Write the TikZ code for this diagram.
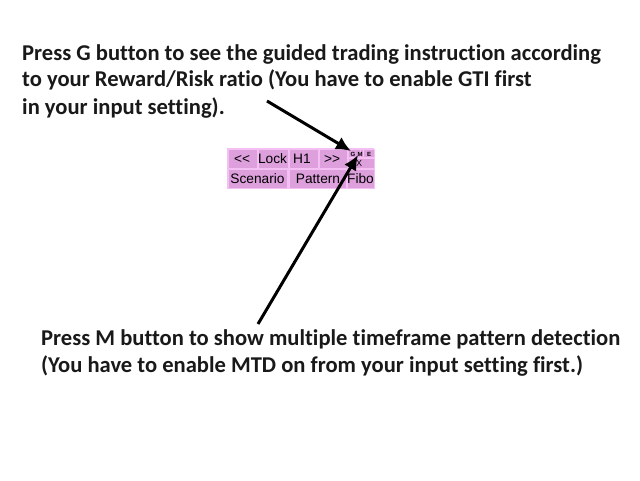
\documentclass[tikz,border=0pt]{standalone}
\usepackage{fontspec}
\setmainfont[Ligatures=NoCommon]{Carlito}
\newfontfamily\btnfont{Liberation Sans}
\usetikzlibrary{arrows.meta}
\definecolor{btn}{HTML}{DDA0DD}
\definecolor{btnlight}{HTML}{F4C0F4}
\tikzset{
  note/.style={anchor=base west,inner sep=0pt,font=\fontsize{22.58}{22.58}\selectfont\bfseries,text=black!90},
  btnbox/.style={fill=btn,draw=btnlight,line width=1pt},
  btntext/.style={anchor=base,inner sep=0pt,font=\btnfont\fontsize{13.7}{13.7}\selectfont,text=black},
  tinytext/.style={anchor=base,inner sep=0pt,font=\btnfont\bfseries\fontsize{6}{6}\selectfont,text=black},
  pointer/.style={line width=3pt,-{Latex[length=15pt,width=14pt]}}
}
\begin{document}
\begin{tikzpicture}[x=1pt,y=-1pt]
\useasboundingbox (0,0) rectangle (640,480);
\fill[white] (0,0) rectangle (640,480);
\node[note] (l1) at (22,60) {Press G button to see the guided trading instruction according};
\node[note] (l2) at (22,86) {to your Reward/Risk ratio (You have to enable GTI first};
\node[note] (l3) at (22,114) {in your input setting).};
\node[note] (m1) at (41,345) {Press M button to show multiple timeframe pattern detection};
\node[note] (m2) at (41,372) {(You have to enable MTD on from your input setting first.)};
\fill[btnlight] (227,148) rectangle (374,188.5);
\draw[btnbox] (228,149.5) rectangle (257,168);
\draw[btnbox] (258,149.5) rectangle (288,168);
\draw[btnbox] (289,149.5) rectangle (318,168);
\draw[btnbox] (319,149.5) rectangle (347,168);
\draw[btnbox] (348.5,149.5) rectangle (360,157.5);
\draw[btnbox] (360,149.5) rectangle (363.5,157.5);
\draw[btnbox] (363.5,149.5) rectangle (374,157.5);
\draw[btnbox] (348.5,158) rectangle (374,168);
\draw[btnbox] (228,169.5) rectangle (287,188);
\draw[btnbox] (289,169.5) rectangle (346,188);
\draw[btnbox] (347,169.5) rectangle (374,188);
\node[btntext] (b1) at (242,163) {<{}<};
\node[btntext] (b2) at (272.5,163) {Lock};
\node[btntext] (b3) at (302,163) {H1};
\node[btntext] (b4) at (332,163) {>{}>};
\node[tinytext] (b5) at (353,156) {G};
\node[tinytext] (b6) at (360,156) {M};
\node[tinytext] (b7) at (369,156) {E};
\node[btntext,font=\btnfont\fontsize{9}{9}\selectfont] (b8) at (359,166) {X};
\node[btntext] (b9) at (257.5,183) {Scenario};
\node[btntext] (b10) at (318,183) {Pattern};
\node[btntext] (b11) at (360.5,183) {Fibo};
\coordinate (gs) at (267,101);
\coordinate (ge) at (351,151);
\coordinate (ms) at (258,324);
\coordinate (me) at (358,155);
\draw[pointer] (gs) -- (ge);
\draw[pointer] (ms) -- (me);
\end{tikzpicture}
\end{document}
